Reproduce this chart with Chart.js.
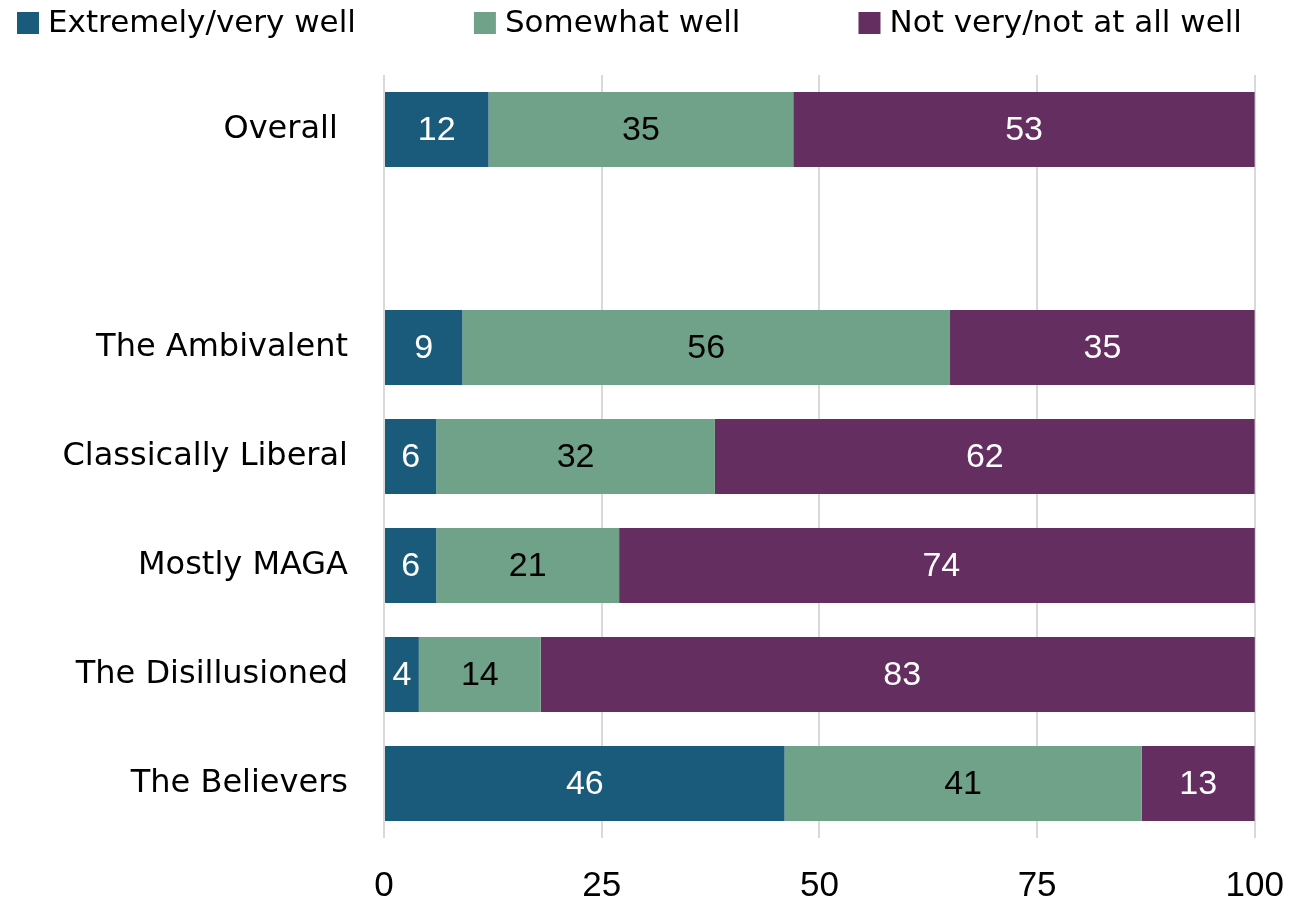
<!DOCTYPE html>
<html>
<head>
<meta charset="utf-8">
<script src="https://cdn.jsdelivr.net/npm/chart.js@4.4.0/dist/chart.umd.min.js"></script>
<style>
  html, body { margin: 0; padding: 0; background: #fff; }
  #wrap { width: 1311px; height: 902px; }
</style>
</head>
<body>
<div id="wrap"><canvas id="chart"></canvas></div>
<script>
// categories (blank row separates Overall from the groups)
const categories = ['Overall ', '', 'The Ambivalent', 'Classically Liberal', 'Mostly MAGA', 'The Disillusioned', 'The Believers'];

// series values (%)
const extremelyWell = [12, null, 9, 6, 6, 4, 46];
const somewhatWell  = [35, null, 56, 32, 21, 14, 41];
const notWell       = [53, null, 35, 62, 74, 83, 13];

const seriesNames = ['Extremely/very well', 'Somewhat well', 'Not very/not at all well'];
const seriesColors = ['#1a5b7b', '#6fa288', '#642f60'];
const labelColors = ['#ffffff', '#000000', '#ffffff'];

const xTicks = [0, 25, 50, 75, 100];

const textFont = '"DejaVu Sans", sans-serif';

// value in the middle of each segment
const barLabels = {
    id: 'barLabels',
    afterDatasetsDraw(chart) {
        const c = chart.ctx;
        c.save();
        c.font = '34px "Liberation Sans", Arial, sans-serif';
        c.textAlign = 'center';
        c.textBaseline = 'middle';
        chart.data.datasets.forEach((ds, i) => {
            chart.getDatasetMeta(i).data.forEach((bar, j) => {
                const v = ds.data[j];
                if (v === null || v === undefined) return;
                c.fillStyle = labelColors[i];
                c.fillText(String(v), (bar.x + bar.base) / 2, bar.y + 1);
            });
        });
        c.restore();
    }
};

// legend row across the top
const topLegend = {
    id: 'topLegend',
    afterDraw(chart) {
        const c = chart.ctx;
        c.save();
        c.font = '31px ' + textFont;
        c.textBaseline = 'middle';
        c.textAlign = 'left';
        let x = 17;
        const y = 23, box = 22, gap = 118;
        chart.data.datasets.forEach((ds) => {
            c.fillStyle = ds.backgroundColor;
            c.fillRect(x, y - box / 2, box, box);
            c.fillStyle = '#000';
            c.fillText(ds.label, x + box + 9, y + 1);
            x += box + 9 + c.measureText(ds.label).width + gap;
        });
        c.restore();
    }
};

const ctx = document.getElementById('chart').getContext('2d');

new Chart(ctx, {
    type: 'bar',
    data: {
        labels: categories,
        datasets: [extremelyWell, somewhatWell, notWell].map((d, i) => ({
            label: seriesNames[i],
            data: d,
            backgroundColor: seriesColors[i],
            borderWidth: 0,
            categoryPercentage: 1,
            barPercentage: 0.69
        }))
    },
    options: {
        indexAxis: 'y',
        responsive: true,
        maintainAspectRatio: false,
        animation: false,
        layout: { padding: { left: 0, right: 55, top: 75, bottom: 0 } },
        plugins: {
            legend: { display: false },
            tooltip: { enabled: false }
        },
        scales: {
            x: {
                stacked: true,
                min: 0,
                max: 100,
                afterBuildTicks(axis) { axis.ticks = xTicks.map(v => ({ value: v })); },
                afterFit(axis) { axis.height = 64; },
                grid: { color: '#d9d9d9', lineWidth: 2, drawTicks: false },
                border: { display: false },
                ticks: {
                    padding: 27,
                    color: '#000',
                    maxRotation: 0,
                    font: { family: '"Liberation Sans", Arial, sans-serif', size: 35 }
                }
            },
            y: {
                stacked: true,
                afterFit(axis) { axis.width = 384; },
                grid: { display: false, drawTicks: false },
                border: { display: false },
                ticks: {
                    padding: 36,
                    color: '#000',
                    font: { family: textFont, size: 32 }
                }
            }
        }
    },
    plugins: [barLabels, topLegend]
});
</script>
</body>
</html>
